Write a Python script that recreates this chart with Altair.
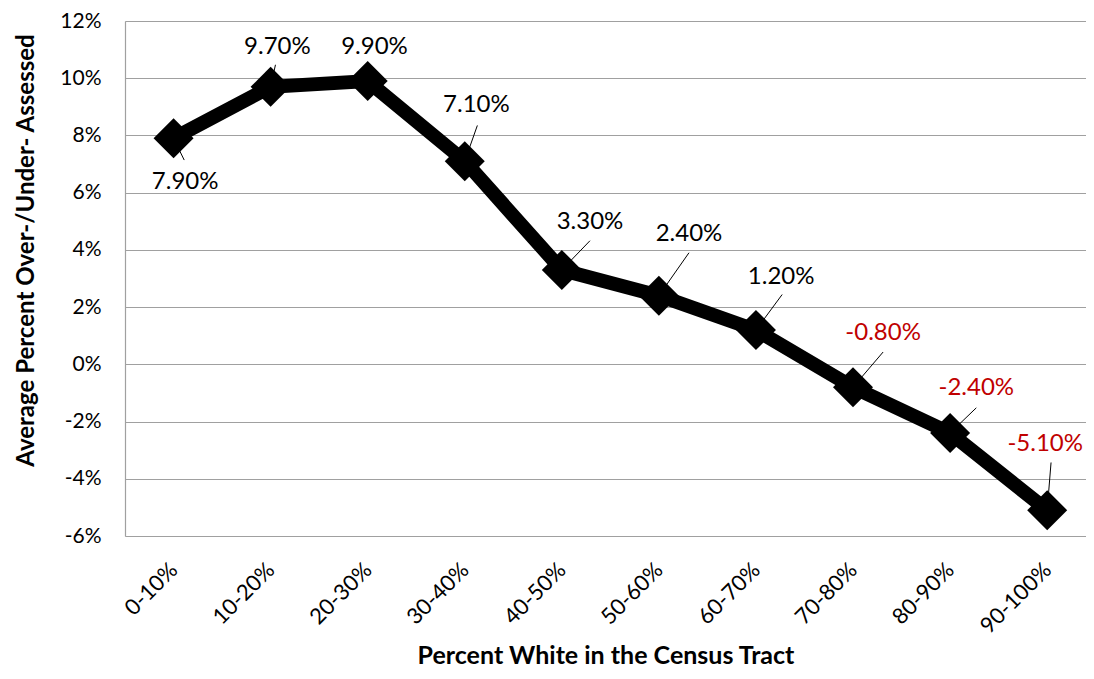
import altair as alt
import pandas as pd

categories = ["0-10%", "10-20%", "20-30%", "30-40%", "40-50%",
              "50-60%", "60-70%", "70-80%", "80-90%", "90-100%"]
values = [7.9, 9.7, 9.9, 7.1, 3.3, 2.4, 1.2, -0.8, -2.4, -5.1]
label_texts = ["7.90%", "9.70%", "9.90%", "7.10%", "3.30%",
               "2.40%", "1.20%", "-0.80%", "-2.40%", "-5.10%"]
# label anchor positions (in data units: category index, percent)
label_x = [0.12, 1.07, 2.07, 3.12, 4.29, 5.31, 6.26, 7.31, 8.27, 8.98]
label_y = [6.37, 11.10, 11.10, 9.05, 4.98, 4.56, 3.04, 1.09, -0.82, -2.77]
# leader line far ends (data units); None = no leader
leader_x = [0.11, 1.05, None, 3.13, 4.29, 5.31, 6.27, 7.31, 8.27, 9.04]
leader_y = [7.14, 10.47, None, 8.35, 4.32, 3.90, 2.44, 0.43, -1.52, -3.43]

idx = list(range(len(categories)))
df = pd.DataFrame({
    "i": idx,
    "cat": categories,
    "v": values,
    "lab": label_texts,
    "lx": label_x,
    "ly": label_y,
    "color": ["#c00000" if v < 0 else "#000000" for v in values],
})
lead = pd.DataFrame({
    "i": idx, "v": values, "ex": leader_x, "ey": leader_y,
}).dropna()

cat_map = "[" + ",".join("'" + c + "'" for c in categories) + "]"

FONT = "Lato"

xscale = alt.Scale(domain=[-0.5, 9.4], nice=False, zero=False)
yscale = alt.Scale(domain=[-6, 12], nice=False)

x_axis = alt.Axis(
    values=idx, labelExpr=cat_map + "[datum.value]",
    labelAngle=-45, labelAlign="right", labelBaseline="middle",
    labelPadding=30, labelFontSize=22, labelFont=FONT, labelColor="#000",
    ticks=False, domain=False, grid=False,
    title="Percent White in the Census Tract", titleFont=FONT,
    titleFontSize=25, titleFontWeight="bold", titleColor="#000",
    titleY=119, titleBaseline="middle",
)
y_axis = alt.Axis(
    values=[-6, -4, -2, 0, 2, 4, 6, 8, 10, 12],
    labelExpr="datum.value + '%'",
    labelFontSize=21, labelFont=FONT, labelColor="#000", labelPadding=24,
    ticks=False, domain=True, domainColor="#a0a0a0", domainWidth=1.2,
    grid=True, gridColor="#a0a0a0", gridWidth=1.2,
    title="Average Percent Over-/Under- Assessed", titleFont=FONT,
    titleFontSize=24, titleFontWeight="bold", titleColor="#000",
    titleX=-99, titleY=229, titleAlign="center", titleBaseline="middle",
    titleAngle=270,
)

base = alt.Chart(df)

leaders = alt.Chart(lead).mark_rule(color="#000", strokeWidth=1).encode(
    x=alt.X("i:Q", scale=xscale, axis=x_axis),
    y=alt.Y("v:Q", scale=yscale, axis=y_axis),
    x2="ex:Q", y2="ey:Q",
)

line = base.mark_line(color="#000", strokeWidth=14, strokeJoin="miter").encode(
    x=alt.X("i:Q", scale=xscale),
    y=alt.Y("v:Q", scale=yscale),
)

points = base.mark_point(shape="diamond", filled=True, size=1600,
                         color="#000", opacity=1).encode(
    x=alt.X("i:Q", scale=xscale),
    y=alt.Y("v:Q", scale=yscale),
)

labels = base.mark_text(font=FONT, fontSize=24, align="center",
                        baseline="middle").encode(
    x=alt.X("lx:Q", scale=xscale),
    y=alt.Y("ly:Q", scale=yscale),
    text="lab:N",
    color=alt.Color("color:N", scale=None),
)

chart = alt.layer(leaders, line, points, labels).properties(
    width=961, height=515,
    autosize=alt.AutoSizeParams(type="none"),
    padding={"left": 117, "top": 13, "right": 0, "bottom": 135},
).configure_view(stroke=None).configure(background="white")

chart.save("out.html", embed_options={"renderer": "svg", "actions": False})
